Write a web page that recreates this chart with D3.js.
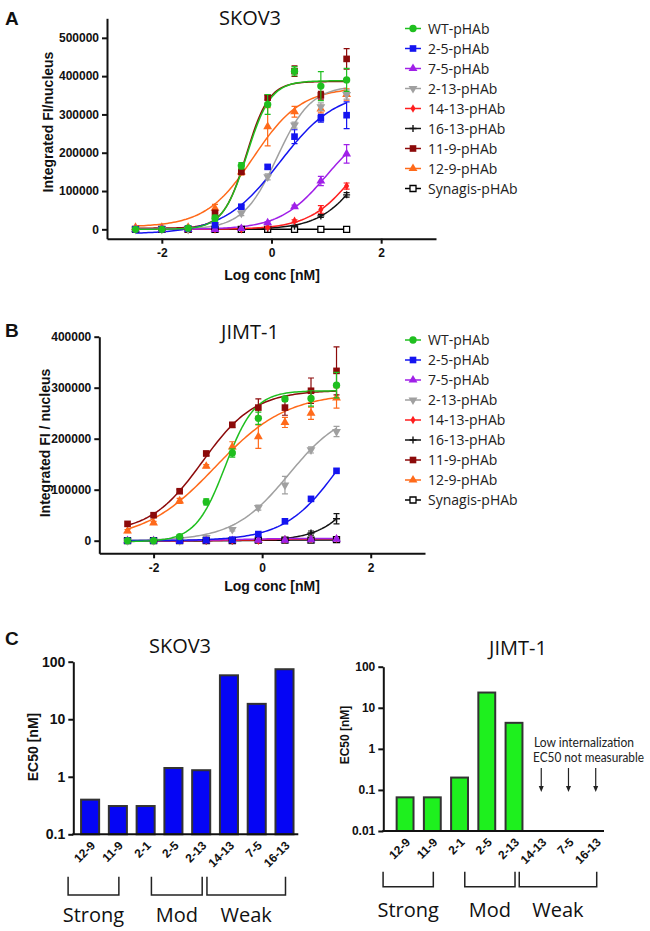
<!DOCTYPE html>
<html><head><meta charset="utf-8">
<script src="https://cdn.jsdelivr.net/npm/d3@7"></script>
<style>body{margin:0;background:#fff}svg{display:block}</style></head>
<body><svg id="c" width="650" height="931"></svg>
<script>
// ---------- DATA ----------
const logConc = [-2.48, -2.0, -1.52, -1.03, -0.55, -0.07, 0.42, 0.9, 1.37];
const seriesLabels = ["WT-pHAb","2-5-pHAb","7-5-pHAb","2-13-pHAb","14-13-pHAb","16-13-pHAb","11-9-pHAb","12-9-pHAb","Synagis-pHAb"];

// Panel A – SKOV3 means / SEM
const skovMeans = [
  [0, 0, 3000, 29000, 166000, 326000, 413000, 374000, 390000],
  [0, 0, 2000, 11000, 59000, 163000, 242000, 290000, 298000],
  [0, 0, 0, 0, 2000, 17000, 59000, 126000, 197000],
  [0, 0, 0, 12000, 42000, 137000, 272000, 320000, 352000],
  [0, 0, 0, 0, 0, 5000, 22000, 52000, 113000],
  [0, 0, 0, 0, 0, 2000, 8000, 35000, 90000],
  [0, 0, 0, 42000, 150000, 344000, 413000, 350000, 445000],
  [5000, 5000, 5000, 55000, 150000, 268000, 307000, 314000, 352000],
  [0, 0, 0, 0, 0, 0, 0, 0, 0]
];
const skovErr = [
  [0, 0, 0, 8000, 8000, 26000, 12000, 38000, 30000],
  [0, 0, 0, 3000, 4000, 5000, 18000, 10000, 35000],
  [0, 0, 0, 0, 0, 3000, 4000, 12000, 24000],
  [0, 0, 0, 2000, 6000, 8000, 8000, 10000, 12000],
  [0, 0, 0, 0, 0, 2000, 3000, 10000, 8000],
  [0, 0, 0, 0, 0, 1000, 2000, 4000, 6000],
  [0, 0, 0, 8000, 6000, 6000, 14000, 10000, 27000],
  [0, 0, 0, 10000, 8000, 50000, 14000, 10000, 15000],
  [0, 0, 0, 0, 0, 0, 0, 0, 0]
];
// fitted curve parameters [bottom, top, logEC50, hill]
const skovFit = [
  [0, 388000, -0.45, 2.0],
  [-12000, 362000, 0.15, 0.85],
  [0, 280000, 1.0, 1.03],
  [0, 375000, 0.1, 1.4],
  [0, 300000, 1.56, 1.04],
  [0, 300000, 1.70, 1.11],
  [3000, 386000, -0.46, 2.1],
  [6000, 370000, -0.33, 1.0],
  [0, 0, 0, 1]
];

// Panel B – JIMT-1 means / SEM
const jimtMeans = [
  [0, 0, 8000, 76000, 172000, 240000, 278000, 279000, 305000],
  [0, 0, 0, 1000, 2000, 13000, 38000, 82000, 137000],
  [0, 0, 0, 0, 0, 1000, 1000, 2000, 3000],
  [0, 0, 0, 6000, 22000, 65000, 109000, 178000, 214000],
  [0, 0, 0, 0, 0, 0, 2000, 3000, 4000],
  [0, 0, 0, 0, 0, 2000, 3000, 15000, 43000],
  [33000, 50000, 97000, 171000, 227000, 261000, 261000, 294000, 333000],
  [19000, 35000, 78000, 146000, 184000, 204000, 232000, 250000, 280000],
  [0, 0, 0, 0, 0, 1000, 1000, 1000, 2000]
];
const jimtErr = [
  [0, 0, 3000, 6000, 8000, 12000, 5000, 15000, 25000],
  [0, 0, 0, 0, 0, 0, 0, 0, 0],
  [0, 0, 0, 0, 0, 0, 0, 0, 0],
  [0, 0, 0, 0, 3000, 5000, 17000, 6000, 10000],
  [0, 0, 0, 0, 0, 0, 0, 0, 0],
  [0, 0, 0, 0, 0, 4000, 3000, 4000, 10000],
  [0, 0, 3000, 4000, 5000, 17000, 15000, 25000, 47000],
  [3000, 3000, 5000, 3000, 10000, 23000, 10000, 12000, 20000],
  [0, 0, 0, 0, 0, 0, 0, 0, 0]
];
const jimtFit = [
  [-2000, 294000, -0.68, 1.6],
  [0, 300000, 1.46, 0.85],
  [0, 4500, -0.5, 1.0],
  [0, 260000, 0.49, 0.85],
  [0, 4000, 0, 1.0],
  [0, 300000, 2.08, 1.09],
  [15000, 295000, -1.1, 0.9],
  [0, 290000, -0.86, 0.66],
  [0, 1500, 0, 1.0]
];

const yTicksA = [0, 100000, 200000, 300000, 400000, 500000];
const yTicksB = [0, 100000, 200000, 300000, 400000];
const xTicks = [-2, 0, 2];

// Panel C
const ec50Cats = ["12-9","11-9","2-1","2-5","2-13","14-13","7-5","16-13"];
const ec50Skov = [0.4, 0.31, 0.31, 1.42, 1.3, 58, 18.5, 74];
const ec50Jimt = [0.066, 0.066, 0.2, 23.5, 4.3, null, null, null];
const groups = [["Strong","12-9","11-9"],["Mod","2-5","2-13"],["Weak","14-13","16-13"]];
const notMeasurable = ["14-13","7-5","16-13"];
const skovLogTicks = [0.1, 1, 10, 100];
const jimtLogTicks = [0.01, 0.1, 1, 10, 100];

// ---------- STYLE ----------
const colors = ["#1fbf1f","#1414f0","#a020e8","#a0a0a0","#ff1e1e","#141414","#8c0a0a","#ff6a1a","#000000"];
const svg = d3.select("#c");
const tickFont = "'Liberation Sans', Arial, sans-serif";
const textFont = "'Open Sans', sans-serif";

function styleAxis(g, w){
  g.selectAll("path.domain").attr("stroke","#111").attr("stroke-width",w||2);
  g.selectAll(".tick line").attr("stroke","#111").attr("stroke-width",w||2);
  g.selectAll(".tick text").attr("font-family",tickFont).attr("font-weight","bold").attr("fill","#111");
}

function markerPath(sel, i, color){
  if (i === 5) {
    sel.append("path").attr("d","M-3.5,0H3.5M0,-3.5V3.5").attr("stroke",color).attr("stroke-width",1.4).attr("fill","none");
    return;
  }
  const types = [d3.symbolCircle, d3.symbolSquare, d3.symbolTriangle, d3.symbolTriangle, d3.symbolDiamond, null, d3.symbolSquare, d3.symbolTriangle, d3.symbolSquare];
  const sizes = [42, 44, 34, 34, 22, 0, 44, 34, 36];
  const p = sel.append("path").attr("d", d3.symbol(types[i], sizes[i])());
  if (i === 3) p.attr("transform","rotate(180)");
  if (i === 8) p.attr("fill","#fff").attr("stroke","#000").attr("stroke-width",1.3);
  else p.attr("fill", color);
}

function curvePanel(cfg){
  const x = d3.scaleLinear().domain([-3,3]).range(cfg.xr);
  const y = d3.scaleLinear().domain(cfg.yd).range(cfg.yr);
  const g = svg.append("g");
  const ya = g.append("g").attr("transform",`translate(${cfg.xr[0]},0)`)
    .call(d3.axisLeft(y).tickValues(cfg.yTicks).tickFormat(d3.format("d")).tickSize(5).tickSizeOuter(0).tickPadding(3));
  ya.selectAll(".tick text").attr("font-size",12);
  styleAxis(ya);
  const xa = g.append("g").attr("transform",`translate(0,${cfg.yr[0]})`)
    .call(d3.axisBottom(x).tickValues(xTicks).tickFormat(d => d===0?"0":d3.format("d")(d).replace("−","-")).tickSize(5).tickSizeOuter(0).tickPadding(5));
  xa.selectAll(".tick text").attr("font-size",12);
  styleAxis(xa);

  const sample = d3.range(0, 101).map(k => logConc[0] + (logConc[logConc.length-1]-logConc[0]) * k/100);
  const line = d3.line().x(d => x(d[0])).y(d => y(d[1]));
  for (let i = seriesLabels.length-1; i >= 0; i--) {
    const [b,t,c,h] = cfg.fit[i];
    const pts = sample.map(v => [v, b + (t-b)/(1+Math.pow(10,(c-v)*h))]);
    g.append("path").attr("d", line(pts)).attr("fill","none").attr("stroke", colors[i]).attr("stroke-width",1.5);
  }
  for (let i = seriesLabels.length-1; i >= 0; i--) {
    cfg.means[i].forEach((m, k) => {
      const e = cfg.err[i][k];
      const px = x(logConc[k]);
      if (e > 0) {
        g.append("path").attr("d",`M${px},${y(m-e)}V${y(m+e)}M${px-3},${y(m+e)}H${px+3}M${px-3},${y(m-e)}H${px+3}`)
          .attr("stroke", colors[i]).attr("stroke-width",1.2).attr("fill","none");
      }
      const mg = g.append("g").attr("transform",`translate(${px},${y(m)})`);
      markerPath(mg, i, colors[i]);
    });
  }
  svg.append("text").attr("x",cfg.titleX).attr("y",cfg.titleY).attr("text-anchor","middle")
    .attr("font-family",textFont).attr("font-size",20).attr("fill","#111").text(cfg.title);
  svg.append("text").attr("transform",`translate(${cfg.ylabX},${cfg.ylabY}) rotate(-90)`).attr("text-anchor","middle")
    .attr("font-family",tickFont).attr("font-weight","bold").attr("font-size",14).attr("fill","#111").text(cfg.ylab);
  svg.append("text").attr("x",272).attr("y",cfg.xlabY).attr("text-anchor","middle")
    .attr("font-family",tickFont).attr("font-weight","bold").attr("font-size",14).attr("fill","#111").text("Log conc [nM]");
  svg.append("text").attr("x",5).attr("y",cfg.letterY).attr("font-family",tickFont).attr("font-weight","bold")
    .attr("font-size",19).attr("fill","#111").text(cfg.letter);
  seriesLabels.forEach((s, i) => {
    const ly = cfg.legY + i*20;
    const lg = svg.append("g");
    lg.append("line").attr("x1",cfg.legX-8).attr("x2",cfg.legX+8).attr("y1",ly).attr("y2",ly).attr("stroke",colors[i]).attr("stroke-width",1.5);
    const mg = lg.append("g").attr("transform",`translate(${cfg.legX},${ly})`);
    markerPath(mg, i, colors[i]);
    lg.append("text").attr("x",cfg.legX+15).attr("y",ly+5).attr("font-family",textFont).attr("font-size",14).attr("fill","#222").text(s);
  });
}

curvePanel({xr:[107,436], yd:[-24500,551000], yr:[238.7,18.3], yTicks:yTicksA, fit:skovFit, means:skovMeans, err:skovErr,
  title:"SKOV3", titleX:250, titleY:25, ylab:"Integrated FI/nucleus", ylabX:53, ylabY:122, xlabY:280, letter:"A", letterY:25,
  legX:413, legY:28.5});
curvePanel({xr:[99.3,425], yd:[-24700,400000], yr:[553.3,336.7], yTicks:yTicksB, fit:jimtFit, means:jimtMeans, err:jimtErr,
  title:"JIMT-1", titleX:250, titleY:339, ylab:"Integrated FI / nucleus", ylabX:50, ylabY:443, xlabY:591, letter:"B", letterY:337,
  legX:413, legY:340});

// ---------- PANEL C ----------
function barPanel(cfg){
  const x = d3.scaleBand().domain(ec50Cats).range(cfg.br).paddingInner(cfg.pi).paddingOuter(cfg.po);
  const y = d3.scaleLog().domain(cfg.yd).range(cfg.yr);
  const g = svg.append("g");
  const base = cfg.yr[0];
  ec50Cats.forEach((c, i) => {
    const v = cfg.values[i];
    if (v == null) return;
    g.append("rect").attr("x", x(c)).attr("y", y(v)).attr("width", x.bandwidth()).attr("height", base - y(v))
      .attr("fill", cfg.fill).attr("stroke","#333").attr("stroke-width",2);
  });
  const ya = g.append("g").attr("transform",`translate(${cfg.axX},0)`)
    .call(d3.axisLeft(y).tickValues(cfg.ticks).tickFormat(d => String(d)).tickSize(5).tickSizeOuter(0).tickPadding(3));
  ya.selectAll(".tick text").attr("font-size",cfg.tickFs);
  styleAxis(ya);
  g.append("line").attr("x1",cfg.axX-1).attr("x2",cfg.axEnd).attr("y1",base).attr("y2",base).attr("stroke","#111").attr("stroke-width",2);
  ec50Cats.forEach(c => {
    const cx = x(c) + x.bandwidth()/2;
    g.append("text").attr("transform",`translate(${cx+3},${base+9}) rotate(-45)`).attr("text-anchor","end").attr("dy","0.35em")
      .attr("font-family",tickFont).attr("font-weight","bold").attr("font-size",12).attr("fill","#111").text(c);
  });
  groups.forEach(([name, a, b]) => {
    const x1 = x(a) + x.bandwidth()/2 - 22, x2 = x(b) + x.bandwidth()/2 + 1;
    g.append("path").attr("d",`M${x1},${cfg.brTop}V${cfg.brBot}H${x2}V${cfg.brTop}`).attr("fill","none").attr("stroke","#222").attr("stroke-width",1.5);
    g.append("text").attr("x",(x1+x2)/2).attr("y",cfg.grpY).attr("text-anchor","middle").attr("font-family",textFont)
      .attr("font-size",20).attr("fill","#111").text(name);
  });
  svg.append("text").attr("x",cfg.titleX).attr("y",cfg.titleY).attr("text-anchor","middle")
    .attr("font-family",textFont).attr("font-size",20).attr("fill","#111").text(cfg.title);
  svg.append("text").attr("transform",`translate(${cfg.ylabX},${cfg.ylabY}) rotate(-90)`).attr("text-anchor","middle")
    .attr("font-family",tickFont).attr("font-weight","bold").attr("font-size",cfg.ylabFs).attr("fill","#111").text("EC50 [nM]");
  return x;
}

barPanel({br:[73.3,301.3], pi:0.35, po:0.28, yd:[0.1,100], yr:[834.3,661.7], values:ec50Skov, fill:"#0505f5",
  axX:73.3, axEnd:298.3, ticks:skovLogTicks, tickFs:14, brTop:876.7, brBot:895, grpY:922,
  title:"SKOV3", titleX:180, titleY:653, ylabX:38, ylabY:747, ylabFs:14});
const xj = barPanel({br:[383.3,617.5], pi:0.38, po:0.49, yd:[0.01,100], yr:[831,666.7], values:ec50Jimt, fill:"#1ef01e",
  axX:383.3, axEnd:604, ticks:jimtLogTicks, tickFs:12, brTop:871.7, brBot:886.7, grpY:917,
  title:"JIMT-1", titleX:518, titleY:655, ylabX:349, ylabY:735, ylabFs:12});
svg.append("text").attr("x",5).attr("y",645).attr("font-family",tickFont).attr("font-weight","bold")
  .attr("font-size",19).attr("fill","#111").text("C");
svg.append("text").attr("x",534).attr("y",747).attr("font-family","Lato, sans-serif").attr("font-size",12.5)
  .attr("textLength",100).attr("lengthAdjust","spacingAndGlyphs").attr("fill","#222").text("Low internalization");
svg.append("text").attr("x",533).attr("y",762).attr("font-family","Lato, sans-serif").attr("font-size",12.5)
  .attr("textLength",111).attr("lengthAdjust","spacingAndGlyphs").attr("fill","#222").text("EC50 not measurable");
notMeasurable.forEach(c => {
  const cx = xj(c) + xj.bandwidth()/2;
  svg.append("line").attr("x1",cx).attr("x2",cx).attr("y1",768).attr("y2",787).attr("stroke","#222").attr("stroke-width",1.2);
  svg.append("path").attr("d",`M${cx-2.5},${786}L${cx+2.5},${786}L${cx},${792}Z`).attr("fill","#222");
});
</script></body></html>
